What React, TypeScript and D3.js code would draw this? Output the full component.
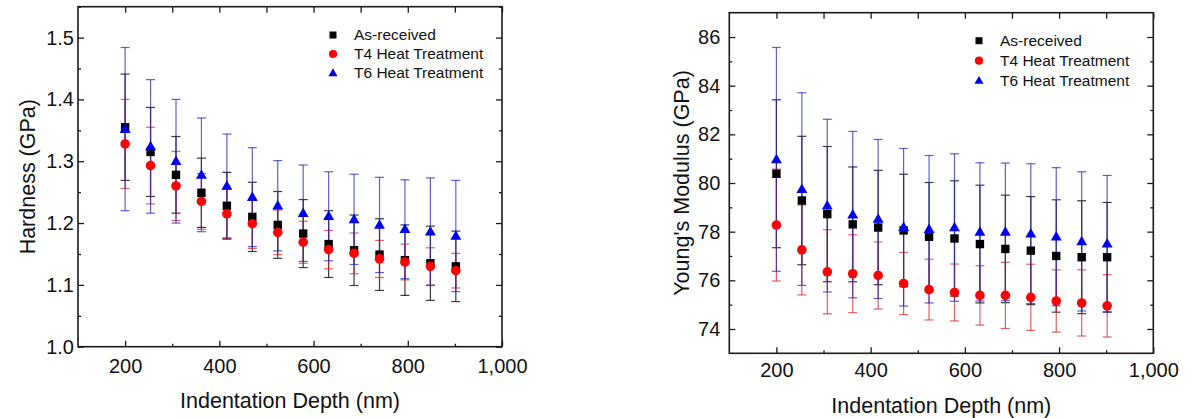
import React, { useRef, useEffect } from 'react';
import * as d3 from 'd3';

// indentation depths (nm)
const depth = [200, 254, 308, 362, 416, 470, 524, 578, 632, 686, 740, 794, 848, 902];

const seriesNames = ['As-received', 'T4 Heat Treatment', 'T6 Heat Treatment'];

// hardness (GPa)
const hardAsRec = [1.355, 1.315, 1.278, 1.249, 1.228, 1.210, 1.197, 1.183, 1.166, 1.156, 1.149, 1.140, 1.135, 1.130];
const hardAsRecErr = [0.086, 0.072, 0.062, 0.056, 0.054, 0.056, 0.054, 0.055, 0.054, 0.057, 0.058, 0.057, 0.060, 0.057];
const hardT4 = [1.328, 1.293, 1.260, 1.235, 1.215, 1.199, 1.185, 1.169, 1.157, 1.151, 1.142, 1.137, 1.130, 1.123];
const hardT4Err = [0.072, 0.062, 0.056, 0.045, 0.040, 0.040, 0.036, 0.034, 0.031, 0.033, 0.030, 0.029, 0.030, 0.028];
const hardT6 = [1.352, 1.324, 1.300, 1.278, 1.260, 1.242, 1.228, 1.216, 1.211, 1.206, 1.197, 1.190, 1.186, 1.179];
const hardT6Err = [0.132, 0.108, 0.100, 0.092, 0.084, 0.080, 0.073, 0.078, 0.072, 0.073, 0.077, 0.080, 0.087, 0.090];

// Young's modulus (GPa)
const modAsRec = [80.38, 79.28, 78.72, 78.30, 78.17, 78.05, 77.79, 77.72, 77.49, 77.29, 77.22, 77.00, 76.95, 76.95];
const modAsRecErr = [3.04, 2.64, 2.78, 2.36, 2.35, 2.31, 2.23, 2.37, 2.42, 2.21, 2.22, 2.31, 2.32, 2.25];
const modT4 = [78.27, 77.25, 76.35, 76.27, 76.20, 75.87, 75.62, 75.50, 75.38, 75.38, 75.30, 75.15, 75.07, 74.95];
const modT4Err = [2.30, 1.85, 1.73, 1.60, 1.38, 1.28, 1.25, 1.17, 1.22, 1.36, 1.36, 1.28, 1.36, 1.28];
const modT6 = [80.97, 79.75, 79.07, 78.70, 78.52, 78.18, 78.10, 78.17, 77.99, 77.99, 77.92, 77.79, 77.60, 77.50];
const modT6Err = [4.60, 3.96, 3.55, 3.42, 3.27, 3.24, 3.03, 3.03, 2.84, 2.83, 2.87, 2.84, 2.86, 2.81];

const xMajor = [200, 400, 600, 800, 1000];
const xMinor = [300, 500, 700, 900];
const hardMajor = [1.0, 1.1, 1.2, 1.3, 1.4, 1.5];
const hardMinor = [1.05, 1.15, 1.25, 1.35, 1.45, 1.55];
const modMajor = [74, 76, 78, 80, 82, 84, 86];
const modMinor = [75, 77, 79, 81, 83, 85];

const FONT = 'Liberation Sans, Arial, Helvetica, sans-serif';

const markerStyle = [
  { shape: 'square', fill: '#000000', bar: '#1a1a1a', barOpacity: 0.85 },
  { shape: 'circle', fill: '#ff0000', bar: '#d02020', barOpacity: 0.7 },
  { shape: 'triangle', fill: '#0000ee', bar: '#2222bb', barOpacity: 0.72 },
];

function drawMarker(g, shape, cx, cy, s, fill) {
  if (shape === 'square') {
    g.append('rect').attr('x', cx - s / 2).attr('y', cy - s / 2)
      .attr('width', s).attr('height', s).attr('fill', fill);
  } else if (shape === 'circle') {
    g.append('circle').attr('cx', cx).attr('cy', cy).attr('r', s / 2 + 0.6).attr('fill', fill);
  } else {
    const t = s * 1.3;
    const hgt = t * 0.87;
    g.append('path')
      .attr('d', `M${cx},${cy - hgt * 0.6}L${cx + t / 2},${cy + hgt * 0.4}L${cx - t / 2},${cy + hgt * 0.4}Z`)
      .attr('fill', fill);
  }
}

function drawPanel(svg, cfg) {
  const { x0, y0, w, h, yDomain, yMajor, yMinor, yFmt, yPad, xPad, yLabel, yLabelX, xLabelY, series, legend } = cfg;

  const x = d3.scaleLinear().domain([100, 1000]).range([x0, x0 + w]);
  const y = d3.scaleLinear().domain(yDomain).range([y0 + h, y0]);

  const g = svg.append('g');

  // error bars
  series.forEach((s, k) => {
    const st = markerStyle[k];
    const eb = g.append('g')
      .attr('stroke', st.bar)
      .attr('stroke-opacity', st.barOpacity)
      .attr('stroke-width', 1.2);
    depth.forEach((d, i) => {
      const cx = x(d);
      const top = y(s.values[i] + s.errors[i]);
      const bot = y(s.values[i] - s.errors[i]);
      eb.append('line').attr('x1', cx).attr('x2', cx).attr('y1', top).attr('y2', bot);
      eb.append('line').attr('x1', cx - 4.5).attr('x2', cx + 4.5).attr('y1', top).attr('y2', top);
      eb.append('line').attr('x1', cx - 4.5).attr('x2', cx + 4.5).attr('y1', bot).attr('y2', bot);
    });
  });

  // markers
  series.forEach((s, k) => {
    const st = markerStyle[k];
    const mg = g.append('g');
    depth.forEach((d, i) => drawMarker(mg, st.shape, x(d), y(s.values[i]), 8.4, st.fill));
  });

  const styleAxis = sel => {
    sel.select('.domain').remove();
    sel.selectAll('line').attr('stroke', '#1a1a1a').attr('stroke-width', 1.3);
    sel.selectAll('text').attr('fill', '#111').style('font-family', FONT).style('font-size', '20px');
  };

  // bottom axis
  g.append('g').attr('transform', `translate(0,${y0 + h})`)
    .call(d3.axisBottom(x).tickValues(xMajor).tickSize(-6).tickPadding(xPad).tickFormat(d3.format(',')))
    .call(styleAxis);
  g.append('g').attr('transform', `translate(0,${y0 + h})`)
    .call(d3.axisBottom(x).tickValues(xMinor).tickSize(-3).tickFormat(() => ''))
    .call(styleAxis);
  // top axis
  g.append('g').attr('transform', `translate(0,${y0})`)
    .call(d3.axisTop(x).tickValues(xMajor.concat(xMinor)).tickSize(-6).tickFormat(() => ''))
    .call(styleAxis);
  // left axis
  g.append('g').attr('transform', `translate(${x0},0)`)
    .call(d3.axisLeft(y).tickValues(yMajor).tickSize(-6).tickPadding(yPad).tickFormat(d3.format(yFmt)))
    .call(styleAxis);
  g.append('g').attr('transform', `translate(${x0},0)`)
    .call(d3.axisLeft(y).tickValues(yMinor).tickSize(-3).tickFormat(() => ''))
    .call(styleAxis);
  // right axis
  g.append('g').attr('transform', `translate(${x0 + w},0)`)
    .call(d3.axisRight(y).tickValues(yMajor).tickSize(-6).tickFormat(() => ''))
    .call(styleAxis);
  g.append('g').attr('transform', `translate(${x0 + w},0)`)
    .call(d3.axisRight(y).tickValues(yMinor).tickSize(-3).tickFormat(() => ''))
    .call(styleAxis);

  // frame
  g.append('rect')
    .attr('x', x0).attr('y', y0).attr('width', w).attr('height', h)
    .attr('fill', 'none').attr('stroke', '#1a1a1a').attr('stroke-width', 1.6);

  // axis titles
  g.append('text')
    .attr('x', x0 + w / 2).attr('y', xLabelY).attr('dy', '0.35em')
    .attr('text-anchor', 'middle')
    .style('font-family', FONT).style('font-size', '21.5px').attr('fill', '#111')
    .text('Indentation Depth (nm)');
  g.append('text')
    .attr('transform', `translate(${yLabelX},${y0 + h / 2}) rotate(-90)`)
    .attr('dy', '0.35em')
    .attr('text-anchor', 'middle')
    .style('font-family', FONT).style('font-size', '21.5px').attr('fill', '#111')
    .text(yLabel);

  // legend
  const lg = g.append('g');
  seriesNames.forEach((name, k) => {
    const ly = legend.y + k * legend.step;
    drawMarker(lg, markerStyle[k].shape, legend.x, ly, 7, markerStyle[k].fill);
    lg.append('text')
      .attr('x', legend.x + 21).attr('y', ly).attr('dy', '0.35em')
      .style('font-family', FONT).style('font-size', '15.5px').attr('fill', '#111')
      .text(name);
  });
}

const App = () => {
  const svgRef = useRef(null);

  useEffect(() => {
    const svg = d3.select(svgRef.current);
    svg.selectAll('*').remove();

    drawPanel(svg, {
      x0: 78, y0: 6.7, w: 424, h: 340,
      yDomain: [1.0, 1.55], yMajor: hardMajor, yMinor: hardMinor, yFmt: '.1f',
      yPad: 4, xPad: 12,
      yLabel: 'Hardness (GPa)', yLabelX: 27, xLabelY: 400,
      series: [
        { values: hardAsRec, errors: hardAsRecErr },
        { values: hardT4, errors: hardT4Err },
        { values: hardT6, errors: hardT6Err },
      ],
      legend: { x: 333, y: 35, step: 19 },
    });

    drawPanel(svg, {
      x0: 729.3, y0: 12.7, w: 424, h: 340.6,
      yDomain: [73, 87], yMajor: modMajor, yMinor: modMinor, yFmt: 'd',
      yPad: 9, xPad: 10,
      yLabel: "Young's Modulus (GPa)", yLabelX: 681, xLabelY: 405,
      series: [
        { values: modAsRec, errors: modAsRecErr },
        { values: modT4, errors: modT4Err },
        { values: modT6, errors: modT6Err },
      ],
      legend: { x: 979, y: 40.7, step: 20 },
    });
  }, []);

  return (
    <svg
      ref={svgRef}
      width={1191}
      height={418}
      style={{ position: 'absolute', left: 0, top: 0, background: '#fff' }}
    />
  );
};

export default App;
